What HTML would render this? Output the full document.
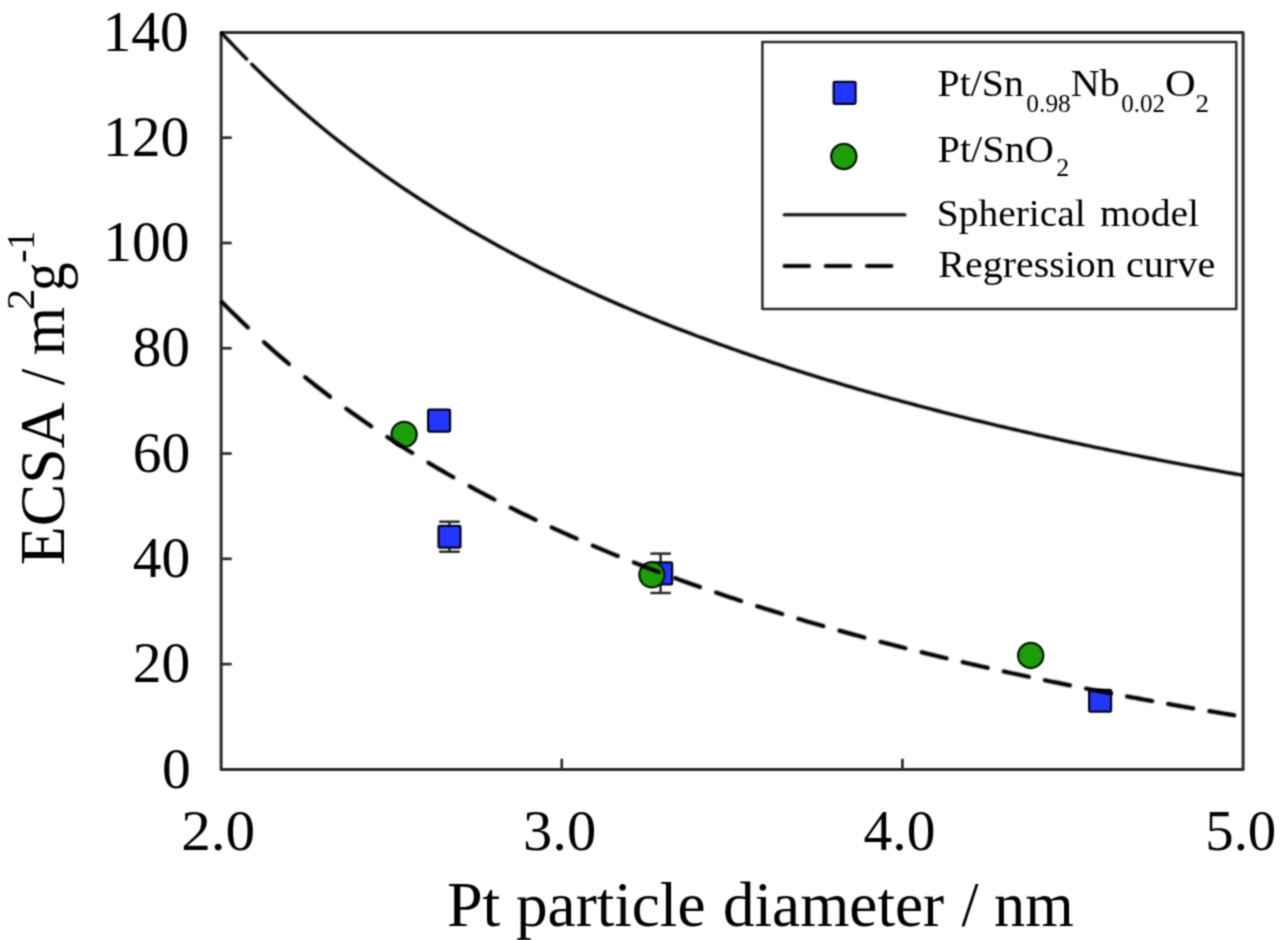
<!DOCTYPE html>
<html><head><meta charset="utf-8"><title>ECSA vs Pt particle diameter</title>
<style>
html,body{margin:0;padding:0;background:#fff;}
body{width:1280px;height:940px;overflow:hidden;}
svg{display:block;}
.bt{filter:url(#f1);}
.bl{filter:url(#f2);}
.bm{filter:url(#f1);}
.ba{filter:url(#f1);}
text{font-family:"Liberation Serif",serif;fill:#000;}
</style></head><body>
<svg width="1280" height="940" viewBox="0 0 1280 940">
<defs>
<filter id="f1" filterUnits="userSpaceOnUse" x="0" y="0" width="1280" height="940" color-interpolation-filters="sRGB"><feConvolveMatrix order="3" kernelMatrix="0.0466 0.1227 0.0466 0.1227 0.3228 0.1227 0.0466 0.1227 0.0466" edgeMode="none"/></filter>
<filter id="f2" filterUnits="userSpaceOnUse" x="0" y="0" width="1280" height="940" color-interpolation-filters="sRGB"><feConvolveMatrix order="3" kernelMatrix="0.0494 0.1235 0.0494 0.1235 0.3086 0.1235 0.0494 0.1235 0.0494" edgeMode="none" result="a"/><feConvolveMatrix in="a" order="3" kernelMatrix="0.0352 0.1172 0.0352 0.1172 0.3906 0.1172 0.0352 0.1172 0.0352" edgeMode="none"/></filter>
</defs>
<rect x="0" y="0" width="1280" height="940" fill="#ffffff"/>
<g class="ba">
<rect x="221.10" y="32.40" width="1022.00" height="737.00" fill="none" stroke="#2c2c2c" stroke-width="3.00" stroke-linejoin="round"/>
<g stroke="#2c2c2c" stroke-width="2.7" stroke-linecap="butt">
<line x1="221.10" y1="664.11" x2="231.70" y2="664.11"/>
<line x1="221.10" y1="558.83" x2="231.70" y2="558.83"/>
<line x1="221.10" y1="453.54" x2="231.70" y2="453.54"/>
<line x1="221.10" y1="348.26" x2="231.70" y2="348.26"/>
<line x1="221.10" y1="242.97" x2="231.70" y2="242.97"/>
<line x1="221.10" y1="137.69" x2="231.70" y2="137.69"/>
<line x1="561.77" y1="769.40" x2="561.77" y2="758.80"/>
<line x1="902.43" y1="769.40" x2="902.43" y2="758.80"/>
</g>
</g>
<g class="bt">
<text font-size="57.5" x="162.00" y="787.50">0</text>
<text font-size="57.5" x="132.80" y="682.21">20</text>
<text font-size="57.5" x="132.80" y="576.93">40</text>
<text font-size="57.5" x="132.80" y="471.64">60</text>
<text font-size="57.5" x="132.60" y="366.36">80</text>
<text font-size="57.5" x="103.20" y="261.07">100</text>
<text font-size="57.5" x="103.00" y="155.79">120</text>
<text font-size="57.5" x="102.40" y="50.50">140</text>
<text font-size="57.5" transform="translate(181.16 849.80) scale(1.0299 1)">2.0</text>
<text font-size="57.5" transform="translate(523.05 849.80) scale(1.0179 1)">3.0</text>
<text font-size="57.5" transform="translate(863.60 849.80) scale(0.9986 1)">4.0</text>
<text font-size="57.5" transform="translate(1205.24 849.80) scale(0.9881 1)">5.0</text>
<text font-size="62.7" transform="translate(446.96 925.80) scale(1.0220 1)">Pt</text>
<text font-size="62.7" transform="translate(515.99 925.80) scale(1.0081 1)">particle</text>
<text font-size="62.7" transform="translate(722.88 925.80) scale(1.0088 1)">diameter</text>
<text font-size="62.7" transform="translate(961.50 925.80) scale(0.9765 1)">/</text>
<text font-size="62.7" transform="translate(994.11 925.80) scale(0.9949 1)">nm</text>
<text font-size="62.7" transform="translate(63.70 565.23) rotate(-90) scale(1.0165 1)">ECSA</text>
<text font-size="62.7" transform="translate(63.70 385.20) rotate(-90) scale(0.9529 1)">/</text>
<text font-size="62.7" transform="translate(63.70 355.60) rotate(-90) scale(0.9979 1)">m</text>
<text font-size="41" transform="translate(34.00 310.07) rotate(-90) scale(1.0375 1)">2</text>
<text font-size="62.7" transform="translate(63.70 291.27) rotate(-90) scale(0.9222 1)">g</text>
<text font-size="41" transform="translate(34.00 262.90) rotate(-90) scale(1.0000 1)">-</text>
<text font-size="41" transform="translate(34.00 249.56) rotate(-90) scale(0.9143 1)">1</text>
</g>
<g class="bm">
<g stroke="#2a2a2a" stroke-width="2.5" fill="none">
<line x1="449.50" y1="521.70" x2="449.50" y2="551.70"/>
<line x1="439.25" y1="521.70" x2="459.75" y2="521.70"/>
<line x1="439.25" y1="551.70" x2="459.75" y2="551.70"/>
</g>
<g stroke="#2a2a2a" stroke-width="2.5" fill="none">
<line x1="660.60" y1="553.60" x2="660.60" y2="593.00"/>
<line x1="650.35" y1="553.60" x2="670.85" y2="553.60"/>
<line x1="650.35" y1="593.00" x2="670.85" y2="593.00"/>
</g>
<rect x="428.15" y="409.65" width="21.90" height="21.90" rx="1.2" fill="#2236ff" stroke="#05051e" stroke-width="2.25"/>
<rect x="438.55" y="525.75" width="21.90" height="21.90" rx="1.2" fill="#2236ff" stroke="#05051e" stroke-width="2.25"/>
<rect x="650.25" y="562.45" width="21.90" height="21.90" rx="1.2" fill="#2236ff" stroke="#05051e" stroke-width="2.25"/>
<rect x="1089.15" y="689.75" width="21.90" height="21.90" rx="1.2" fill="#2236ff" stroke="#05051e" stroke-width="2.25"/>
<circle cx="404.10" cy="434.40" r="12.6" fill="#1e9d0a" stroke="#051e06" stroke-width="2.25"/>
<circle cx="651.90" cy="574.80" r="12.6" fill="#1e9d0a" stroke="#051e06" stroke-width="2.25"/>
<circle cx="1030.70" cy="655.40" r="12.6" fill="#1e9d0a" stroke="#051e06" stroke-width="2.25"/>
</g>
<g class="bl">
<g fill="none" stroke="#000" stroke-width="3.4" stroke-linecap="round" stroke-linejoin="round">
<path d="M222.10 33.49 L225.60 37.25 L229.10 40.98 L232.60 44.66 L236.10 48.31 L239.60 51.92 L243.10 55.50 L246.60 59.04"/>
<path d="M251.80 64.24 L255.79 68.17 L259.79 72.07 L263.78 75.92 L267.77 79.73 L271.77 83.50 L275.76 87.23 L279.75 90.92 L283.75 94.56 L287.74 98.17 L291.73 101.74 L295.72 105.28 L299.72 108.77 L303.71 112.23 L307.70 115.65 L311.70 119.04 L315.69 122.39 L319.68 125.71 L323.68 129.00 L327.67 132.25 L331.66 135.47 L335.66 138.65 L339.65 141.81 L343.64 144.93 L347.64 148.02 L351.63 151.09 L355.62 154.12 L359.61 157.12 L363.61 160.09 L367.60 163.04 L371.59 165.95 L375.59 168.84 L379.58 171.70 L383.57 174.54 L387.57 177.34 L391.56 180.12 L395.55 182.88 L399.55 185.61 L403.54 188.31 L407.53 190.99 L411.53 193.65 L415.52 196.28 L419.51 198.88 L423.51 201.47 L427.50 204.03 L431.49 206.56 L435.48 209.08 L439.48 211.57 L443.47 214.04 L447.46 216.49 L451.46 218.91 L455.45 221.32 L459.44 223.70 L463.44 226.07 L467.43 228.41 L471.42 230.74 L475.42 233.04 L479.41 235.32 L483.40 237.59 L487.40 239.83 L491.39 242.06 L495.38 244.27 L499.38 246.46 L503.37 248.63 L507.36 250.79 L511.35 252.92 L515.35 255.04 L519.34 257.14 L523.33 259.23 L527.33 261.29 L531.32 263.34 L535.31 265.38 L539.31 267.40 L543.30 269.40 L547.29 271.39 L551.29 273.36 L555.28 275.31 L559.27 277.25 L563.27 279.18 L567.26 281.08 L571.25 282.98 L575.24 284.86 L579.24 286.73 L583.23 288.58 L587.22 290.41 L591.22 292.24 L595.21 294.05 L599.20 295.84 L603.20 297.63 L607.19 299.39 L611.18 301.15 L615.18 302.89 L619.17 304.62 L623.16 306.34 L627.16 308.05 L631.15 309.74 L635.14 311.42 L639.14 313.09 L643.13 314.74 L647.12 316.38 L651.11 318.02 L655.11 319.64 L659.10 321.25 L663.09 322.84 L667.09 324.43 L671.08 326.00 L675.07 327.57 L679.07 329.12 L683.06 330.66 L687.05 332.19 L691.05 333.71 L695.04 335.22 L699.03 336.72 L703.03 338.21 L707.02 339.69 L711.01 341.16 L715.00 342.62 L719.00 344.07 L722.99 345.51 L726.98 346.94 L730.98 348.36 L734.97 349.77 L738.96 351.17 L742.96 352.56 L746.95 353.94 L750.94 355.31 L754.94 356.68 L758.93 358.03 L762.92 359.38 L766.92 360.72 L770.91 362.05 L774.90 363.37 L778.90 364.68 L782.89 365.99 L786.88 367.28 L790.87 368.57 L794.87 369.85 L798.86 371.12 L802.85 372.38 L806.85 373.63 L810.84 374.88 L814.83 376.12 L818.83 377.35 L822.82 378.58 L826.81 379.79 L830.81 381.00 L834.80 382.20 L838.79 383.40 L842.79 384.58 L846.78 385.76 L850.77 386.93 L854.76 388.10 L858.76 389.26 L862.75 390.41 L866.74 391.55 L870.74 392.69 L874.73 393.82 L878.72 394.94 L882.72 396.06 L886.71 397.17 L890.70 398.27 L894.70 399.37 L898.69 400.46 L902.68 401.54 L906.68 402.62 L910.67 403.69 L914.66 404.76 L918.66 405.82 L922.65 406.87 L926.64 407.92 L930.63 408.96 L934.63 409.99 L938.62 411.02 L942.61 412.05 L946.61 413.06 L950.60 414.08 L954.59 415.08 L958.59 416.08 L962.58 417.08 L966.57 418.07 L970.57 419.05 L974.56 420.03 L978.55 421.00 L982.55 421.97 L986.54 422.93 L990.53 423.89 L994.52 424.84 L998.52 425.79 L1002.51 426.73 L1006.50 427.66 L1010.50 428.59 L1014.49 429.52 L1018.48 430.44 L1022.48 431.36 L1026.47 432.27 L1030.46 433.17 L1034.46 434.08 L1038.45 434.97 L1042.44 435.86 L1046.44 436.75 L1050.43 437.63 L1054.42 438.51 L1058.42 439.38 L1062.41 440.25 L1066.40 441.12 L1070.39 441.98 L1074.39 442.83 L1078.38 443.68 L1082.37 444.53 L1086.37 445.37 L1090.36 446.21 L1094.35 447.04 L1098.35 447.87 L1102.34 448.69 L1106.33 449.51 L1110.33 450.33 L1114.32 451.14 L1118.31 451.95 L1122.31 452.75 L1126.30 453.55 L1130.29 454.35 L1134.29 455.14 L1138.28 455.93 L1142.27 456.71 L1146.26 457.49 L1150.26 458.27 L1154.25 459.04 L1158.24 459.81 L1162.24 460.57 L1166.23 461.34 L1170.22 462.09 L1174.22 462.85 L1178.21 463.60 L1182.20 464.34 L1186.20 465.09 L1190.19 465.82 L1194.18 466.56 L1198.18 467.29 L1202.17 468.02 L1206.16 468.74 L1210.15 469.47 L1214.15 470.18 L1218.14 470.90 L1222.13 471.61 L1226.13 472.32 L1230.12 473.02 L1234.11 473.72 L1238.11 474.42 L1242.10 475.12"/>
</g>
<g fill="none" stroke="#000" stroke-width="4.20" stroke-linecap="round" stroke-linejoin="round">
<path d="M222.10 302.24 L225.79 305.95 L229.47 309.63 L233.16 313.27 L236.85 316.86 L240.54 320.43 L244.22 323.95 L247.91 327.44"/>
<path d="M263.99 342.23 L267.56 345.43 L271.14 348.60 L274.71 351.73 L278.29 354.84 L281.86 357.92 L285.44 360.96 L289.01 363.98"/>
<path d="M305.09 377.21 L308.66 380.08 L312.24 382.92 L315.81 385.73 L319.39 388.52 L322.96 391.28 L326.54 394.02 L330.11 396.73"/>
<path d="M346.19 408.63 L349.76 411.21 L353.34 413.77 L356.91 416.31 L360.49 418.82 L364.06 421.31 L367.64 423.78 L371.21 426.23"/>
<path d="M387.29 437.00 L390.86 439.34 L394.44 441.66 L398.01 443.96 L401.59 446.23 L405.16 448.50 L408.74 450.74 L412.31 452.96"/>
<path d="M428.39 462.75 L431.96 464.87 L435.54 466.98 L439.11 469.08 L442.69 471.15 L446.26 473.21 L449.84 475.26 L453.41 477.29"/>
<path d="M469.49 486.22 L473.06 488.16 L476.64 490.09 L480.21 492.00 L483.79 493.90 L487.36 495.79 L490.94 497.66 L494.51 499.51"/>
<path d="M510.59 507.70 L514.16 509.48 L517.74 511.25 L521.31 513.01 L524.89 514.75 L528.46 516.48 L532.04 518.20 L535.61 519.91"/>
<path d="M551.69 527.44 L555.26 529.08 L558.84 530.71 L562.41 532.33 L565.99 533.93 L569.56 535.53 L573.14 537.11 L576.71 538.69"/>
<path d="M592.79 545.63 L596.36 547.15 L599.94 548.65 L603.51 550.15 L607.09 551.63 L610.66 553.11 L614.24 554.58 L617.81 556.03"/>
<path d="M633.89 562.46 L637.46 563.87 L641.04 565.26 L644.61 566.65 L648.19 568.02 L651.76 569.39 L655.34 570.75 L658.91 572.10"/>
<path d="M674.99 578.07 L678.56 579.38 L682.14 580.67 L685.71 581.96 L689.29 583.24 L692.86 584.52 L696.44 585.78 L700.01 587.04"/>
<path d="M716.09 592.59 L719.66 593.81 L723.24 595.02 L726.81 596.22 L730.39 597.41 L733.96 598.60 L737.54 599.78 L741.11 600.95"/>
<path d="M757.19 606.13 L760.76 607.27 L764.34 608.40 L767.91 609.52 L771.49 610.63 L775.06 611.74 L778.64 612.84 L782.21 613.94"/>
<path d="M798.29 618.79 L801.86 619.85 L805.44 620.91 L809.01 621.96 L812.59 623.00 L816.16 624.04 L819.74 625.07 L823.31 626.10"/>
<path d="M839.39 630.64 L842.96 631.64 L846.54 632.63 L850.11 633.62 L853.69 634.60 L857.26 635.57 L860.84 636.54 L864.41 637.50"/>
<path d="M880.49 641.77 L884.06 642.71 L887.64 643.64 L891.21 644.57 L894.79 645.49 L898.36 646.40 L901.94 647.31 L905.51 648.22"/>
<path d="M921.59 652.24 L925.16 653.12 L928.74 654.00 L932.31 654.87 L935.89 655.74 L939.46 656.60 L943.04 657.46 L946.61 658.31"/>
<path d="M962.69 662.10 L966.26 662.93 L969.84 663.76 L973.41 664.58 L976.99 665.40 L980.56 666.21 L984.14 667.02 L987.71 667.83"/>
<path d="M1003.79 671.41 L1007.36 672.19 L1010.94 672.97 L1014.51 673.75 L1018.09 674.53 L1021.66 675.30 L1025.24 676.06 L1028.81 676.82"/>
<path d="M1044.89 680.21 L1048.46 680.95 L1052.04 681.69 L1055.61 682.43 L1059.19 683.16 L1062.76 683.89 L1066.34 684.61 L1069.91 685.33"/>
<path d="M1085.99 688.54 L1089.56 689.24 L1093.14 689.94 L1096.71 690.64 L1100.29 691.34 L1103.86 692.03 L1107.44 692.71 L1111.01 693.40"/>
<path d="M1127.09 696.44 L1130.66 697.11 L1134.24 697.77 L1137.81 698.43 L1141.39 699.09 L1144.96 699.75 L1148.54 700.40 L1152.11 701.05"/>
<path d="M1168.19 703.94 L1171.76 704.58 L1175.34 705.21 L1178.91 705.84 L1182.49 706.46 L1186.06 707.09 L1189.64 707.71 L1193.21 708.33"/>
<path d="M1209.29 711.07 L1212.86 711.68 L1216.44 712.28 L1220.01 712.88 L1223.59 713.47 L1227.16 714.07 L1230.74 714.66 L1234.31 715.25"/>
</g>
</g>
<g class="ba">
<rect x="762.40" y="42.00" width="473.90" height="267.00" fill="#fff" stroke="#2c2c2c" stroke-width="2.5" stroke-linejoin="round"/>
</g>
<g class="bm">
<rect x="833.65" y="81.85" width="21.90" height="21.90" rx="1.2" fill="#2236ff" stroke="#05051e" stroke-width="2.25"/>
<circle cx="843.80" cy="156.50" r="12.6" fill="#1e9d0a" stroke="#051e06" stroke-width="2.25"/>
</g>
<g class="bl">
<line x1="784.2" y1="214.8" x2="905" y2="214.8" stroke="#000" stroke-width="3.1" stroke-linecap="round"/>
<g stroke="#000" stroke-width="4.20" stroke-linecap="round">
<line x1="784.60" y1="266" x2="809.00" y2="266"/>
<line x1="825.80" y1="266" x2="850.20" y2="266"/>
<line x1="867.00" y1="266" x2="891.40" y2="266"/>
</g>
</g>
<g class="bt">
<text font-size="38.5" transform="translate(937.57 96.30) scale(1.0329 1)">Pt/Sn</text>
<text font-size="24.6" transform="translate(1026.37 112.00) scale(1.0317 1)">0.98</text>
<text font-size="38.5" transform="translate(1070.76 96.30) scale(1.0400 1)">Nb</text>
<text font-size="24.6" transform="translate(1121.18 112.00) scale(1.0195 1)">0.02</text>
<text font-size="38.5" transform="translate(1164.89 96.30) scale(1.1042 1)">O</text>
<text font-size="24.6" transform="translate(1195.50 112.00) scale(1.1000 1)">2</text>
<text font-size="38.5" transform="translate(937.55 162.20) scale(1.0459 1)">Pt/SnO</text>
<text font-size="24.6" transform="translate(1056.34 176.40) scale(1.0600 1)">2</text>
<text font-size="38.5" transform="translate(936.83 226.20) scale(1.0239 1)">Spherical</text>
<text font-size="38.5" transform="translate(1100.07 226.20) scale(1.0287 1)">model</text>
<text font-size="38.5" transform="translate(938.36 277.30) scale(1.0367 1)">Regression</text>
<text font-size="38.5" transform="translate(1126.01 277.30) scale(1.0451 1)">curve</text>
</g>
</svg></body></html>
